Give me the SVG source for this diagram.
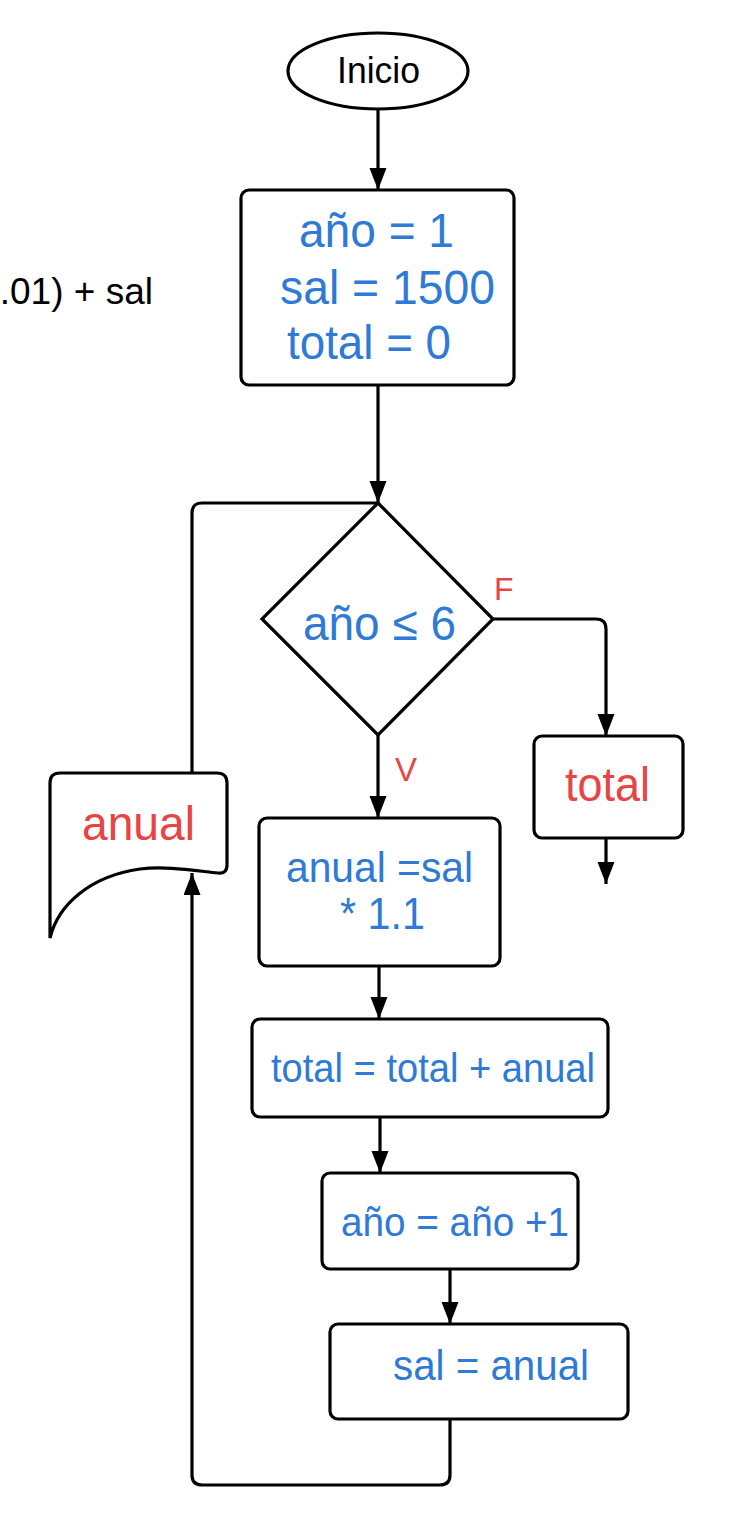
<svg xmlns="http://www.w3.org/2000/svg" width="732" height="1536" viewBox="0 0 732 1536">
<defs>
<style>
.shape{fill:#fff;stroke:#000;stroke-width:3.2}
.con{fill:none;stroke:#000;stroke-width:3.2}
.t{font-family:"Liberation Sans",Arial,sans-serif}
.b{fill:#2E7AD6}
.r{fill:#E84444}
.k{fill:#000}
</style>
<marker id="ah" markerUnits="userSpaceOnUse" markerWidth="22" markerHeight="18" refX="22" refY="8.5" orient="auto">
<path d="M0,0 L22,8.5 L0,17 Z" fill="#000"/>
</marker>
</defs>
<rect width="732" height="1536" fill="#fff"/>
<text class="t k" x="153" y="304" font-size="37" text-anchor="end">0.01) + sal</text>
<g id="connectors">
<path class="con" d="M378,110 V190" marker-end="url(#ah)"/>
<path class="con" d="M378,385 V503" marker-end="url(#ah)"/>
<path class="con" d="M378,735 V818" marker-end="url(#ah)"/>
<path class="con" d="M493,619 H596 Q606,619 606,629 V736" marker-end="url(#ah)"/>
<path class="con" d="M606,838 V884" marker-end="url(#ah)"/>
<path class="con" d="M379,966 V1019" marker-end="url(#ah)"/>
<path class="con" d="M380,1117 V1173" marker-end="url(#ah)"/>
<path class="con" d="M450,1269 V1324" marker-end="url(#ah)"/>
<path class="con" d="M450,1419 V1475 Q450,1485 440,1485 H202 Q192,1485 192,1475 V873" marker-end="url(#ah)"/>
<path class="con" d="M192,773 V513 Q192,503 202,503 H378"/>
<text class="t r" x="494" y="600" font-size="32">F</text>
<text class="t r" x="395" y="781" font-size="33">V</text>
</g>
<g id="inicio">
<ellipse class="shape" cx="378" cy="71" rx="90" ry="38"/>
<text class="t k" x="337" y="83" font-size="37" textLength="83" lengthAdjust="spacingAndGlyphs">Inicio</text>
</g>
<g id="init">
<rect class="shape" x="241" y="190" width="273" height="195" rx="8"/>
<text class="t b" x="299" y="247" font-size="49" textLength="155" lengthAdjust="spacingAndGlyphs">año = 1</text>
<text class="t b" x="280" y="304" font-size="49" textLength="215" lengthAdjust="spacingAndGlyphs">sal = 1500</text>
<text class="t b" x="287" y="359" font-size="49" textLength="164" lengthAdjust="spacingAndGlyphs">total = 0</text>
</g>
<g id="cond">
<path class="shape" d="M378,503 L493,619 L378,735 L262,619 Z"/>
<text class="t b" x="303" y="640" font-size="48" textLength="153" lengthAdjust="spacingAndGlyphs">año ≤ 6</text>
</g>
<g id="out-total">
<rect class="shape" x="534" y="736" width="149" height="102" rx="8"/>
<text class="t r" x="565" y="801" font-size="48" textLength="85" lengthAdjust="spacingAndGlyphs">total</text>
</g>
<g id="out-anual">
<path class="shape" d="M50,938 L50,783 Q50,773 60,773 L217,773 Q227,773 227,783 L227,865 Q227,874 218,873 C190,870 165,866 140,869 C90,876 58,905 50,938 Z"/>
<text class="t r" x="82" y="840" font-size="48" textLength="113" lengthAdjust="spacingAndGlyphs">anual</text>
</g>
<g id="calc-anual">
<rect class="shape" x="259" y="818" width="241" height="148" rx="8"/>
<text class="t b" x="286" y="882" font-size="42" textLength="187" lengthAdjust="spacingAndGlyphs">anual =sal</text>
<text class="t b" x="340" y="929" font-size="44" textLength="85" lengthAdjust="spacingAndGlyphs">* 1.1</text>
</g>
<g id="calc-total">
<rect class="shape" x="252" y="1019" width="356" height="98" rx="8"/>
<text class="t b" x="271" y="1082" font-size="40" textLength="324" lengthAdjust="spacingAndGlyphs">total = total + anual</text>
</g>
<g id="inc-ano">
<rect class="shape" x="322" y="1173" width="256" height="96" rx="8"/>
<text class="t b" x="341" y="1236" font-size="40" textLength="228" lengthAdjust="spacingAndGlyphs">año = año +1</text>
</g>
<g id="sal-anual">
<rect class="shape" x="330" y="1324" width="298" height="95" rx="8"/>
<text class="t b" x="393" y="1380" font-size="42" textLength="196" lengthAdjust="spacingAndGlyphs">sal = anual</text>
</g>
</svg>
